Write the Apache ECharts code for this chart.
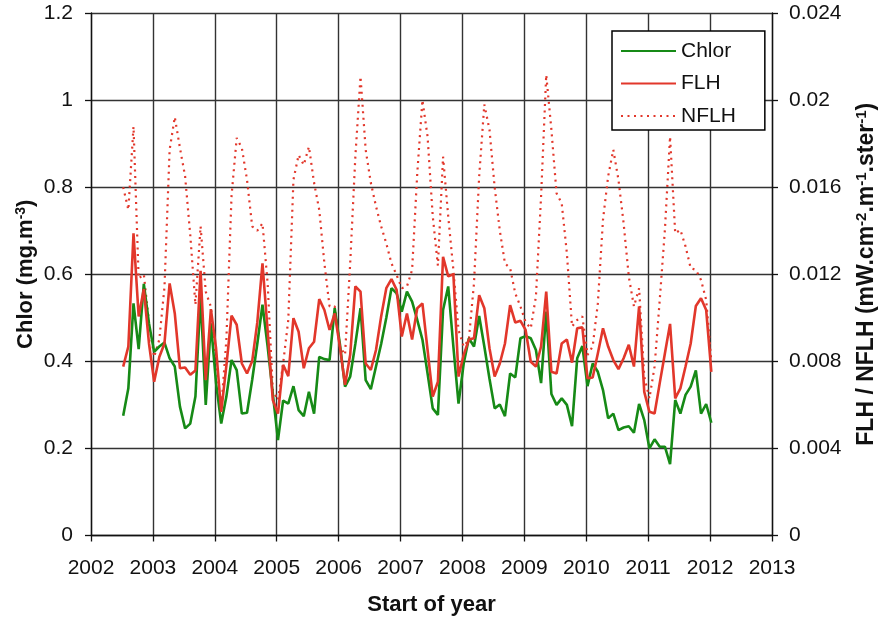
<!DOCTYPE html>
<html>
<head>
<meta charset="utf-8">
<script src="https://cdn.jsdelivr.net/npm/echarts@6/dist/echarts.min.js"></script>
<style>
html,body{margin:0;padding:0;background:#fff;}
#chart{width:888px;height:619px;}
</style>
</head>
<body>
<div id="chart"></div>
<script>
// Monthly series, July 2002 .. January 2012
const startYear = 2002;
const startMonth = 7;

const chlor = [0.275,0.338,0.533,0.428,0.578,0.487,0.422,0.434,0.443,0.407,
  0.388,0.296,0.246,0.257,0.319,0.55,0.30,0.487,0.35,0.257,
  0.319,0.403,0.38,0.28,0.282,0.357,0.441,0.53,0.434,0.326,
  0.219,0.31,0.303,0.343,0.288,0.274,0.33,0.28,0.41,0.405,
  0.403,0.522,0.44,0.342,0.365,0.44,0.522,0.357,0.336,0.388,
  0.44,0.50,0.568,0.556,0.514,0.56,0.537,0.495,0.45,0.372,
  0.292,0.277,0.518,0.572,0.434,0.303,0.395,0.453,0.434,0.504,
  0.434,0.36,0.292,0.301,0.274,0.372,0.363,0.453,0.458,0.453,
  0.426,0.35,0.514,0.325,0.30,0.315,0.30,0.251,0.407,0.435,
  0.343,0.395,0.376,0.334,0.269,0.28,0.242,0.248,0.251,0.236,
  0.302,0.265,0.20,0.221,0.204,0.204,0.164,0.311,0.28,0.323,
  0.342,0.379,0.28,0.302,0.259];

const flh = [0.00776,0.00868,0.01388,0.01006,0.01132,0.00882,0.00706,0.0082,0.00882,0.01158,
  0.0102,0.00768,0.00772,0.00738,0.00758,0.01216,0.00714,0.0104,0.0086,0.00568,
  0.0078,0.0101,0.00968,0.0079,0.00744,0.008,0.0098,0.0125,0.0094,0.00622,
  0.0056,0.00784,0.00732,0.00998,0.00936,0.00768,0.0086,0.0089,0.01086,0.01036,
  0.00944,0.0102,0.00868,0.00692,0.0083,0.01144,0.0112,0.0079,0.0076,0.00852,
  0.01006,0.01136,0.01178,0.01128,0.00914,0.0102,0.009,0.01044,0.01066,0.00852,
  0.00638,0.00706,0.0128,0.0119,0.012,0.0073,0.0083,0.009,0.00906,0.01104,
  0.01044,0.0086,0.0073,0.0079,0.00882,0.01058,0.00978,0.00986,0.00944,0.00798,
  0.00776,0.00868,0.0112,0.00752,0.00744,0.00882,0.009,0.00794,0.00952,0.00956,
  0.00722,0.00726,0.00836,0.00952,0.00868,0.00806,0.00764,0.00814,0.00876,0.00776,
  0.01052,0.0066,0.00568,0.0056,0.007,0.00836,0.00972,0.0063,0.00676,0.00776,
  0.00882,0.01054,0.0109,0.01036,0.00752];

const nflh = [0.016,0.01496,0.01878,0.0118,0.012,0.0098,0.0082,0.009,0.0114,0.01772,
  0.01922,0.0178,0.0165,0.0138,0.0106,0.0142,0.0112,0.0105,0.008,0.0058,
  0.009,0.0156,0.01826,0.0178,0.01634,0.0142,0.014,0.01434,0.01158,0.00668,
  0.00622,0.0079,0.0099,0.01634,0.01748,0.01702,0.01786,0.0162,0.01496,0.0125,
  0.01052,0.01052,0.00868,0.0083,0.0125,0.0174,0.02108,0.01772,0.0162,0.01512,
  0.0142,0.01342,0.0125,0.01196,0.01136,0.01144,0.0122,0.01664,0.02,0.01832,
  0.01466,0.0124,0.0174,0.01466,0.0122,0.00944,0.00868,0.009,0.0116,0.0165,
  0.0198,0.01864,0.016,0.014,0.0125,0.01228,0.01112,0.01052,0.0098,0.00952,
  0.01098,0.01558,0.02116,0.01864,0.01572,0.01526,0.01296,0.0096,0.0099,0.01006,
  0.0083,0.00868,0.01066,0.0145,0.0165,0.01772,0.01634,0.01434,0.0119,0.01052,
  0.01136,0.0073,0.0063,0.00776,0.01082,0.01404,0.01832,0.01388,0.01404,0.01328,
  0.01228,0.0122,0.01174,0.01082,0.008];

const yearTicks = [2002,2003,2004,2005,2006,2007,2008,2009,2010,2011,2012,2013];
const leftTicks = [0,0.2,0.4,0.6,0.8,1,1.2];
const rightTicks = [0,0.004,0.008,0.012,0.016,0.02,0.024];

function timeOf(i){ return startYear + (startMonth - 1 + i) / 12 + 0.02; }
function pairs(arr){ return arr.map((v,i)=>[timeOf(i), v]); }

const GREEN = '#168a16';
const RED = '#e2372b';
const FONT = 'Liberation Sans, Arial, sans-serif';

const chart = echarts.init(document.getElementById('chart'), null, {renderer:'canvas'});
chart.setOption({
  backgroundColor:'#fff',
  animation:false,
  textStyle:{fontFamily:FONT},
  grid:{left:91, right:116, top:13, bottom:83.5, containLabel:false, outerBoundsMode:'none'},
  legend:{
    orient:'vertical',
    left:612, top:31,
    backgroundColor:'#fff',
    borderColor:'#000', borderWidth:1.5,
    padding:[9,29,3,8],
    itemWidth:55, itemHeight:14, itemGap:10.5,
    itemStyle:{opacity:0},
    textStyle:{fontSize:21, color:'#111', fontFamily:FONT, lineHeight:22},
    data:['Chlor','FLH','NFLH']
  },
  xAxis:{
    type:'value', min:yearTicks[0], max:yearTicks[yearTicks.length-1], interval:1,
    name:'Start of year', nameLocation:'middle', nameGap:58, nameMoveOverlap:false,
    nameTextStyle:{fontSize:22, fontWeight:'bold', color:'#111', fontFamily:FONT},
    axisLine:{lineStyle:{color:'#111', width:1.3}},
    axisTick:{show:true, length:6, lineStyle:{color:'#111', width:1.3}},
    axisLabel:{fontSize:21, color:'#111', margin:22, formatter:v=>String(v)},
    splitLine:{show:true, lineStyle:{color:'#333', width:1.4}}
  },
  yAxis:[{
    type:'value', min:leftTicks[0], max:leftTicks[leftTicks.length-1], interval:0.2,
    position:'left',
    name:'{a|Chlor (mg.m}{s|-3}{a|)}', nameLocation:'middle', nameGap:53, nameRotate:90, nameMoveOverlap:false,
    nameTextStyle:{rich:{
      a:{fontSize:22, fontWeight:'bold', color:'#111', fontFamily:FONT},
      s:{fontSize:14, fontWeight:'bold', color:'#111', fontFamily:FONT, verticalAlign:'top', padding:[0,0,10,0]}
    }},
    axisLine:{show:true, lineStyle:{color:'#111', width:1.3}},
    axisTick:{show:true, length:6, lineStyle:{color:'#111', width:1.3}},
    axisLabel:{fontSize:21, color:'#111', margin:18},
    splitLine:{show:true, lineStyle:{color:'#333', width:1.4}}
  },{
    type:'value', min:rightTicks[0], max:rightTicks[rightTicks.length-1], interval:0.004,
    position:'right',
    name:'{a|FLH / NFLH (mW.cm}{s|-2}{a|.m}{s|-1}{a|.ster}{s|-1}{a|)}', nameLocation:'middle', nameGap:82, nameRotate:90, nameMoveOverlap:false,
    nameTextStyle:{rich:{
      a:{fontSize:23, fontWeight:'bold', color:'#111', fontFamily:FONT},
      s:{fontSize:15, fontWeight:'bold', color:'#111', fontFamily:FONT, verticalAlign:'top', padding:[0,0,10,0]}
    }},
    axisLine:{show:true, lineStyle:{color:'#111', width:1.3}},
    axisTick:{show:true, length:6, lineStyle:{color:'#111', width:1.3}},
    axisLabel:{fontSize:21, color:'#111', margin:17,
      formatter:v=>{ const r = rightTicks.find(t=>Math.abs(t-v)<1e-9); return r===undefined? '' : String(r); }},
    splitLine:{show:false}
  }],
  series:[
    {name:'Chlor', type:'line', yAxisIndex:0, data:pairs(chlor), symbol:'none', showSymbol:false,
      lineStyle:{color:GREEN, width:2.6}, itemStyle:{color:GREEN}, z:3},
    {name:'FLH', type:'line', yAxisIndex:1, data:pairs(flh), symbol:'none', showSymbol:false,
      lineStyle:{color:RED, width:2.6}, itemStyle:{color:RED}, z:4},
    {name:'NFLH', type:'line', yAxisIndex:1, data:pairs(nflh), symbol:'none', showSymbol:false,
      lineStyle:{color:RED, width:2.2, type:[2,4.5]}, itemStyle:{color:RED}, z:2}
  ]
});
</script>
</body>
</html>
